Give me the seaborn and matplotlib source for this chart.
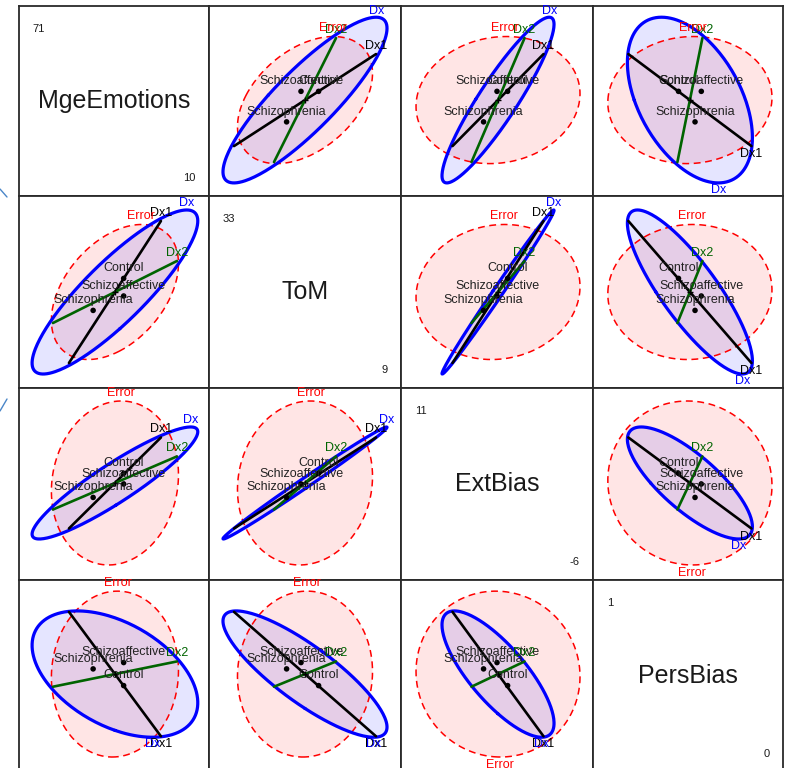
import numpy as np
import pandas as pd
import matplotlib
matplotlib.use("Agg")
import matplotlib.pyplot as plt
from matplotlib.lines import Line2D
import seaborn as sns

# ---- variables and their displayed ranges -------------------------------
variables = ["MgeEmotions", "ToM", "ExtBias", "PersBias"]
var_lo = [10, 9, -6, 0]
var_hi = [71, 33, 11, 1]

# ---- group means ---------------------------------------------------------
groups = ["Control", "Schizoaffective", "Schizophrenia"]
mean_control = [43.6, 22.7, 3.44, 0.45]
mean_schizoaffective = [43.6, 20.5, 2.50, 0.57]
mean_schizophrenia = [33.8, 18.7, 1.31, 0.537]
grand_mean = [40.8, 21.0, 2.59, 0.51]

# ---- Error ellipsoid: radius along each variable and correlations --------
err_radius = [20.4, 8.44, 7.26, 0.432]
err_corr = [[1.00, 0.42, 0.10, 0.04],
            [0.42, 1.00, 0.08, 0.03],
            [0.10, 0.08, 1.00, -0.03],
            [0.04, 0.03, -0.03, 1.00]]

# ---- Dx hypothesis ellipsoid (2 df): its two principal loading columns ---
dx_axis_a = [26.6, 8.88, 4.53, -0.1494]
dx_axis_b = [0.0, 5.125, 2.02, -0.2931]

# ---- 1-df contrasts (half-length vectors of the degenerate ellipses) -----
dx1_vec = [14.77, 8.875, 4.03, -0.324]
dx2_vec = [19.9, 3.875, 2.35, 0.0658]

sns.set_theme(style="white")
plt.rcParams["font.family"] = ["Liberation Sans", "DejaVu Sans"]

W, H = 786, 768
fig = plt.figure(figsize=(W / 100, H / 100), dpi=100)

col_edges = [19, 209, 401, 593, 783]
row_edges = [6, 196, 388, 580, 772]

means = pd.DataFrame([mean_control, mean_schizoaffective, mean_schizophrenia],
                     columns=variables)
means["group"] = groups

d = np.diag(err_radius)
E = d @ np.asarray(err_corr, float) @ d
G = np.column_stack([dx_axis_a, dx_axis_b])
HX = G @ G.T
theta = np.linspace(0, 2 * np.pi, 241)


def ellipse_xy(S, i, j):
    sub = S[np.ix_([j, i], [j, i])]
    w, v = np.linalg.eigh(sub)
    a = v @ np.diag(np.sqrt(np.clip(w, 0, None)))
    pts = (a @ np.vstack([np.cos(theta), np.sin(theta)])).T
    pts[:, 0] += grand_mean[j]
    pts[:, 1] += grand_mean[i]
    r = sub[0, 1] / np.sqrt(sub[0, 0] * sub[1, 1])
    return pts, r


def put_label(ax, pts, r, text, color, off=1.5):
    if r >= 0:
        k = np.argmax(pts[:, 1])
        dy, va = off, "bottom"
    else:
        k = np.argmin(pts[:, 1])
        dy, va = -off, "top"
    ax.annotate(text, (pts[k, 0], pts[k, 1]), xytext=(0, dy),
                textcoords="offset points", ha="center", va=va,
                fontsize=9, color=color, annotation_clip=False, zorder=8)


dash = (0, (4.5, 3))
for i in range(4):
    for j in range(4):
        x0, x1 = col_edges[j], col_edges[j + 1]
        y0, y1 = row_edges[i], row_edges[i + 1]
        ax = fig.add_axes([x0 / W, 1 - y1 / H, (x1 - x0) / W, (y1 - y0) / H])
        ax.set_xlim(var_lo[j], var_hi[j])
        ax.set_ylim(var_lo[i], var_hi[i])
        ax.set_xticks([])
        ax.set_yticks([])
        ax.set_facecolor("white")
        for sp in ax.spines.values():
            sp.set_color("#2a2a2a")
            sp.set_linewidth(1.3)
            sp.set_visible(True)

        if i == j:
            ax.text(0.5, 0.5, variables[i], transform=ax.transAxes,
                    ha="center", va="center", fontsize=18, color="#1a1a1a")
            ax.text(0.072, 0.905, f"{var_hi[i]:g}", transform=ax.transAxes,
                    ha="left", va="top", fontsize=8, color="#1a1a1a")
            ax.text(0.93, 0.07, f"{var_lo[i]:g}", transform=ax.transAxes,
                    ha="right", va="bottom", fontsize=8, color="#1a1a1a")
            continue

        # Error ellipse
        pe, re = ellipse_xy(E, i, j)
        ax.fill(pe[:, 0], pe[:, 1], color="red", alpha=0.1, lw=0, zorder=1)
        # Dx ellipse
        ph, rh = ellipse_xy(HX, i, j)
        ax.fill(ph[:, 0], ph[:, 1], color="blue", alpha=0.1, lw=0, zorder=2)

        sns.lineplot(x=pe[:, 0], y=pe[:, 1], sort=False, estimator=None,
                     color="red", lw=1.1, linestyle=dash, ax=ax, zorder=3)
        sns.lineplot(x=ph[:, 0], y=ph[:, 1], sort=False, estimator=None,
                     color="blue", lw=2.3, ax=ax, zorder=4)

        # contrast segments
        for vec, col, name in ((dx1_vec, "black", "Dx1"),
                               (dx2_vec, "darkgreen", "Dx2")):
            seg = np.array([[grand_mean[j] - vec[j], grand_mean[i] - vec[i]],
                            [grand_mean[j] + vec[j], grand_mean[i] + vec[i]]])
            sns.lineplot(x=seg[:, 0], y=seg[:, 1], sort=False, estimator=None,
                         color=col, lw=1.9, ax=ax, zorder=5)
            rseg = np.sign(vec[i] * vec[j])
            put_label(ax, seg, rseg, name, col)

        put_label(ax, pe, re, "Error", "red")
        put_label(ax, ph, rh, "Dx", "blue", off=0.5)

        # group means
        sns.scatterplot(data=means, x=variables[j], y=variables[i], ax=ax,
                        color="black", s=16, edgecolor="none", zorder=6,
                        legend=False)
        ax.plot(grand_mean[j], grand_mean[i], marker="+", color="black",
                ms=5, mew=1, zorder=6)
        for _, row in means.iterrows():
            ax.annotate(row["group"], (row[variables[j]], row[variables[i]]),
                        xytext=(0, 3), textcoords="offset points",
                        ha="center", va="bottom", fontsize=9,
                        color="#222222", annotation_clip=False, zorder=7)
        ax.set_xlabel("")
        ax.set_ylabel("")
        ax.set_xlim(var_lo[j], var_hi[j])
        ax.set_ylim(var_lo[i], var_hi[i])

# small marks at the left margin
fig.add_artist(Line2D([0, 7 / W], [1 - 189 / H, 1 - 197 / H],
                      color="#4a86c8", lw=1))
fig.add_artist(Line2D([0, 7 / W], [1 - 411 / H, 1 - 399 / H],
                      color="#4a86c8", lw=1))

fig.savefig("out.png", dpi=100, facecolor="white")
